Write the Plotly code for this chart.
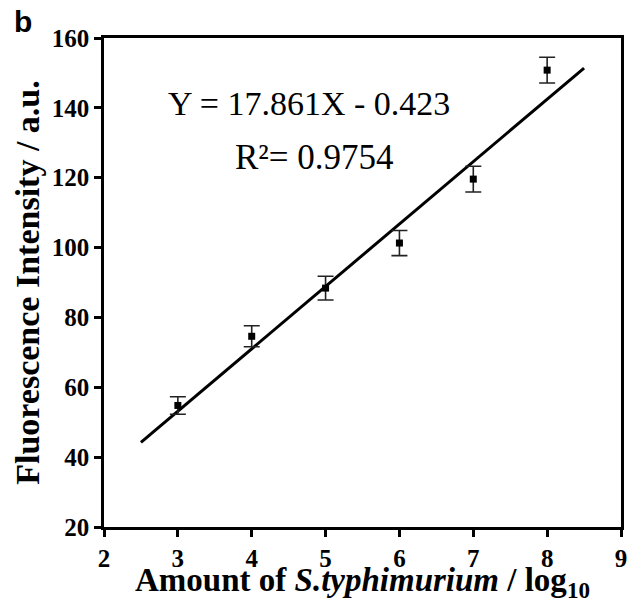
import plotly.graph_objects as go

# Data
amount_log = [3, 4, 5, 6, 7, 8]
intensity = [54.8, 74.6, 88.4, 101.3, 119.6, 150.8]
intensity_err = [2.5, 3.0, 3.4, 3.6, 3.7, 3.7]

# Linear fit as stated on the chart
slope = 17.861
intercept = -0.423
fit_x = [2.5, 8.5]
fit_y = [slope * x + intercept for x in fit_x]

x_ticks = [2, 3, 4, 5, 6, 7, 8, 9]
y_ticks = [20, 40, 60, 80, 100, 120, 140, 160]

SERIF = "Liberation Serif, Times New Roman, serif"

fig = go.Figure()

fig.add_trace(go.Scatter(
    x=fit_x, y=fit_y, mode="lines",
    line=dict(color="black", width=3),
    showlegend=False, hoverinfo="skip",
))

fig.add_trace(go.Scatter(
    x=amount_log, y=intensity, mode="markers",
    marker=dict(symbol="square", size=7, color="black"),
    error_y=dict(type="data", array=intensity_err, visible=True,
                 color="#222222", thickness=1.6, width=8),
    showlegend=False,
))

axis_common = dict(
    showgrid=False, zeroline=False,
    showline=True, linecolor="black", linewidth=2.5, mirror=True,
    ticks="outside", ticklen=7, tickwidth=2.5, tickcolor="black",
    tickfont=dict(family=SERIF, size=25, color="black", weight="bold"),
)

fig.update_layout(
    width=633, height=603,
    margin=dict(l=104, r=6, t=38, b=76),
    paper_bgcolor="white", plot_bgcolor="white",
    xaxis=dict(
        range=[2, 9], tickvals=x_ticks, ticktext=[str(v) for v in x_ticks],
        title=dict(text="Amount of <i>S.typhimurium</i> / log<sub>10</sub>",
                   font=dict(family=SERIF, size=33, color="black", weight="bold"),
                   standoff=2),
        **axis_common,
    ),
    yaxis=dict(
        range=[20, 160], tickvals=y_ticks, ticktext=[str(v) for v in y_ticks],
        title=dict(text="Fluorescence Intensity / a.u.",
                   font=dict(family=SERIF, size=34, color="black", weight="bold"),
                   standoff=2),
        **axis_common,
    ),
    annotations=[
        dict(text="Y = 17.861X - 0.423", xref="paper", yref="paper",
             x=0.396, y=0.867, xanchor="center", yanchor="middle", showarrow=False,
             font=dict(family=SERIF, size=34, color="black")),
        dict(text="R²= 0.9754", xref="paper", yref="paper",
             x=0.407, y=0.755, xanchor="center", yanchor="middle", showarrow=False,
             font=dict(family=SERIF, size=35, color="black")),
        dict(text="b", xref="paper", yref="paper",
             x=-0.157, y=1.033, xanchor="center", yanchor="middle", showarrow=False,
             font=dict(family="Liberation Sans, Arial, sans-serif", size=30,
                       color="black", weight="bold")),
    ],
)

fig.write_html("out.html")
